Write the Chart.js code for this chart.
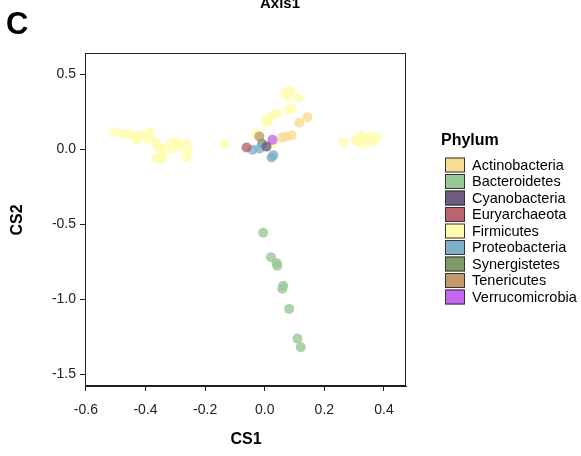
<!DOCTYPE html>
<html lang="en">
<head>
<meta charset="UTF-8">
<title>CS1 / CS2 by phylum</title>
<script src="https://cdn.jsdelivr.net/npm/chart.js"></script>
<style>
  body { margin: 0; background: #ffffff; }
  #wrap { width: 581px; height: 456px; }
</style>
</head>
<body>
<div id="wrap"><canvas id="csChart" width="581" height="456"></canvas></div>
<script>
// categories and colours (legend order)
const phyla = ['Actinobacteria', 'Bacteroidetes', 'Cyanobacteria', 'Euryarchaeota', 'Firmicutes',
               'Proteobacteria', 'Synergistetes', 'Tenericutes', 'Verrucomicrobia'];
const phylumColors = ['#f8dc94', '#97c896', '#6f5b80', '#b9646f', '#fffcae',
                      '#7eb0c8', '#7d9a68', '#c49a6b', '#c466ef'];

// [CS1, CS2] per sample
const actinobacteria = [[0.116, 0.175], [0.143, 0.212], [0.057, 0.076], [0.073, 0.084], [0.090, 0.091]];
const bacteroidetes = [[-0.005, -0.558], [0.021, -0.721], [0.040, -0.761], [0.042, -0.779], [0.062, -0.912],
                       [0.059, -0.932], [0.082, -1.066], [0.110, -1.264], [0.121, -1.321]];
const cyanobacteria = [[0.006, 0.016]];
const euryarchaeota = [[-0.061, 0.010]];
const firmicutes = [
  [-0.503, 0.113], [-0.477, 0.102], [-0.458, 0.098], [-0.441, 0.091], [-0.424, 0.084], [-0.408, 0.091],
  [-0.385, 0.106], [-0.391, 0.069], [-0.430, 0.062], [-0.368, 0.046], [-0.357, 0.013], [-0.346, 0.003],
  [-0.318, 0.031], [-0.296, 0.046], [-0.262, 0.036], [-0.312, 0.003], [-0.257, -0.013], [-0.363, -0.064],
  [-0.346, -0.070], [-0.262, -0.057], [-0.285, 0.013], [-0.341, -0.035], [-0.134, 0.031],
  [0.263, 0.046], [0.303, 0.062], [0.325, 0.091], [0.342, 0.069], [0.331, 0.036], [0.353, 0.084],
  [0.376, 0.080], [0.364, 0.046], [0.314, 0.046],
  [0.068, 0.378], [0.085, 0.385], [0.076, 0.350], [0.112, 0.341], [0.079, 0.262], [0.090, 0.268],
  [0.040, 0.235], [0.023, 0.217], [0.006, 0.195], [0.008, 0.179], [-0.027, 0.102], [0.029, 0.036]
];
const proteobacteria = [[-0.041, -0.005], [-0.017, 0.003], [0.029, -0.042], [0.023, -0.057]];
const synergistetes = [[-0.009, 0.036]];
const tenericutes = [[-0.018, 0.084]];
const verrucomicrobia = [[0.026, 0.061]];

const groups = [actinobacteria, bacteroidetes, cyanobacteria, euryarchaeota, firmicutes,
                proteobacteria, synergistetes, tenericutes, verrucomicrobia];

// tick labels
const xTicks = [-0.6, -0.4, -0.2, 0.0, 0.2, 0.4];
const yTicks = [-1.5, -1.0, -0.5, 0.0, 0.5];

const FONT = '"Liberation Sans", Arial, Helvetica, sans-serif';

function withAlpha(hex, a) {
  const n = parseInt(hex.slice(1), 16);
  return `rgba(${(n >> 16) & 255},${(n >> 8) & 255},${n & 255},${a})`;
}

const datasets = phyla.map((name, i) => ({
  label: name,
  data: groups[i].map(p => ({ x: p[0], y: p[1] })),
  backgroundColor: withAlpha(phylumColors[i], 0.8),
  borderWidth: 0,
  pointRadius: 5,
  pointHoverRadius: 5,
  // the big groups go underneath the small ones
  order: name === 'Firmicutes' ? 2 : (name === 'Actinobacteria' ? 1 : 0)
}));

// frame, titles and the phylum key
const decorations = {
  id: 'decorations',
  afterDraw(chart) {
    const ctx = chart.ctx;
    const a = chart.chartArea;
    ctx.save();
    ctx.strokeStyle = '#222';
    ctx.lineWidth = 1;
    ctx.strokeRect(a.left + 0.5, a.top + 0.5, a.right - a.left - 1, a.bottom - a.top - 1);

    ctx.fillStyle = '#000';
    ctx.textAlign = 'left';
    ctx.textBaseline = 'middle';
    ctx.font = `bold 31px ${FONT}`;
    ctx.fillText('C', 6, 25);

    ctx.textAlign = 'center';
    ctx.textBaseline = 'alphabetic';
    ctx.font = `bold 15px ${FONT}`;
    ctx.fillText('Axis1', 280, 8);

    ctx.textBaseline = 'middle';
    ctx.font = `bold 16px ${FONT}`;
    ctx.fillText('CS1', 246, 440);
    ctx.save();
    ctx.translate(18, 220);
    ctx.rotate(-Math.PI / 2);
    ctx.fillText('CS2', 0, 0);
    ctx.restore();

    ctx.textAlign = 'left';
    ctx.fillText('Phylum', 441, 141);
    ctx.font = `14.5px ${FONT}`;
    phyla.forEach((name, i) => {
      const top = 157.5 + i * 16.5;
      ctx.fillStyle = phylumColors[i];
      ctx.fillRect(445, top, 20, 15);
      ctx.strokeStyle = '#333';
      ctx.strokeRect(445.5, top + 0.5, 19, 14);
      ctx.fillStyle = '#000';
      ctx.fillText(name, 472, top + 8);
    });
    ctx.restore();
  }
};

new Chart(document.getElementById('csChart'), {
  type: 'scatter',
  data: { datasets },
  options: {
    responsive: false,
    animation: false,
    layout: { padding: { left: 0, top: 53, right: 175, bottom: 0 } },
    plugins: {
      legend: { display: false },
      tooltip: { enabled: false }
    },
    scales: {
      x: {
        type: 'linear',
        min: -0.603,
        max: 0.474,
        afterBuildTicks: s => { s.ticks = xTicks.map(v => ({ value: v })); },
        afterFit: s => { s.height = 70; },
        grid: { drawOnChartArea: false, tickLength: 5, tickColor: '#222', tickWidth: 1 },
        border: { display: true, color: '#222', width: 1 },
        ticks: {
          padding: 11,
          color: '#222',
          font: { family: FONT, size: 14 },
          callback: v => v.toFixed(1)
        }
      },
      y: {
        type: 'linear',
        min: -1.58,
        max: 0.64,
        afterBuildTicks: s => { s.ticks = yTicks.map(v => ({ value: v })); },
        afterFit: s => { s.width = 85; },
        grid: { drawOnChartArea: false, tickLength: 5, tickColor: '#222', tickWidth: 1 },
        border: { display: true, color: '#222', width: 1 },
        ticks: {
          padding: 4,
          color: '#222',
          font: { family: FONT, size: 14 },
          callback: v => v.toFixed(1)
        }
      }
    }
  },
  plugins: [decorations]
});
</script>
</body>
</html>
